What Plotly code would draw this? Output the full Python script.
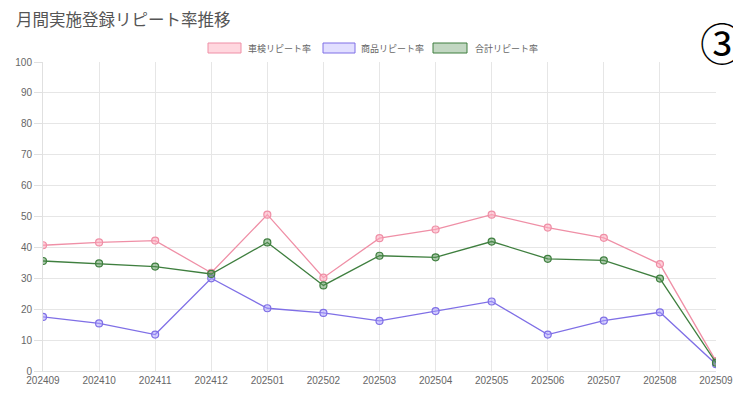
import plotly.graph_objects as go

months = ["202409", "202410", "202411", "202412", "202501", "202502", "202503",
          "202504", "202505", "202506", "202507", "202508", "202509"]
shaken = [40.7, 41.6, 42.2, 31.8, 50.6, 30.2, 43.0, 45.8, 50.6, 46.4, 43.1, 34.6, 3.2]
shohin = [17.5, 15.4, 11.8, 30.0, 20.3, 18.8, 16.2, 19.4, 22.5, 11.8, 16.3, 19.0, 2.2]
total = [35.6, 34.8, 33.8, 31.4, 41.6, 27.7, 37.3, 36.8, 41.9, 36.3, 35.8, 29.9, 2.7]
series_names = ["車検リピート率", "商品リピート率", "合計リピート率"]
title_text = "月間実施登録リピート率推移"

OFF = 8  # browser default body margin
W, H = 741 - OFF, 405 - OFF
# plot area in screen pixels: x 43..716, y 62..371
L, R, T, B = 43 - OFF, 741 - 716, 62 - OFF, 405 - 371
PW, PH = W - L - R, H - T - B

def px(x):
    return (x - OFF - L) / PW

def py(y):
    return (H - B - (y - OFF)) / PH

FONT = "Noto Sans CJK JP, Noto Sans, sans-serif"
TICKFONT = "Liberation Sans, Arial, sans-serif"
colors = ["#ef8fa6", "#7f6fe6", "#3f7f3f"]
fills = ["rgba(255,182,196,0.55)", "rgba(190,185,255,0.45)", "rgba(80,140,80,0.35)"]
marker_fills = ["rgba(255,170,190,0.55)", "rgba(170,160,255,0.5)", "rgba(90,150,90,0.5)"]

fig = go.Figure()
for name, vals, c, mf in zip(series_names, [shaken, shohin, total], colors, marker_fills):
    fig.add_trace(go.Scatter(
        x=months, y=vals, name=name, mode="lines+markers",
        line=dict(color=c, width=1.3),
        marker=dict(size=7, color=mf, line=dict(color=c, width=1.2)),
        showlegend=False,
    ))

shapes = []
annotations = []
# legend boxes
leg = [(208, 241, 246), (323, 355, 359), (433, 467, 473)]
for (x0, x1, tx), name, c, f in zip(leg, series_names, colors, fills):
    shapes.append(dict(type="rect", xref="paper", yref="paper",
                       x0=px(x0), x1=px(x1), y0=py(53), y1=py(43),
                       line=dict(color=c, width=1), fillcolor=f))
    annotations.append(dict(xref="paper", yref="paper", x=px(tx), y=py(48),
                            text=name, showarrow=False, xanchor="left", yanchor="middle",
                            font=dict(size=9, color="#666", family=FONT)))

# title
annotations.append(dict(xref="paper", yref="paper", x=px(14), y=py(19),
                        text=title_text, showarrow=False, xanchor="left", yanchor="middle",
                        font=dict(size=16.5, color="#555", family=FONT)))
# circled number
annotations.append(dict(xref="paper", yref="paper", x=px(698), y=py(42),
                        text="③", showarrow=False, xanchor="left", yanchor="middle",
                        font=dict(size=44, color="#000", family="Noto Sans CJK JP")))

fig.update_layout(
    width=W, height=H,
    margin=dict(l=L, r=R, t=T, b=B, autoexpand=False),
    paper_bgcolor="white", plot_bgcolor="white",
    shapes=shapes, annotations=annotations,
    xaxis=dict(type="category", range=[0, 12], showgrid=True, gridcolor="#e6e6e6",
               gridwidth=1, zeroline=False, showline=True, linecolor="#e0e0e0",
               ticks="", tickfont=dict(size=10, color="#666", family=TICKFONT),
               automargin=False),
    yaxis=dict(range=[0, 100], dtick=10, showgrid=True, gridcolor="#e6e6e6",
               zeroline=False, showline=True, linecolor="#e0e0e0",
               ticks="outside", ticklen=8, tickcolor="#e0e0e0",
               tickfont=dict(size=10, color="#666", family=TICKFONT),
               automargin=False),
    font=dict(family=FONT),
)

fig.write_html("out.html")
